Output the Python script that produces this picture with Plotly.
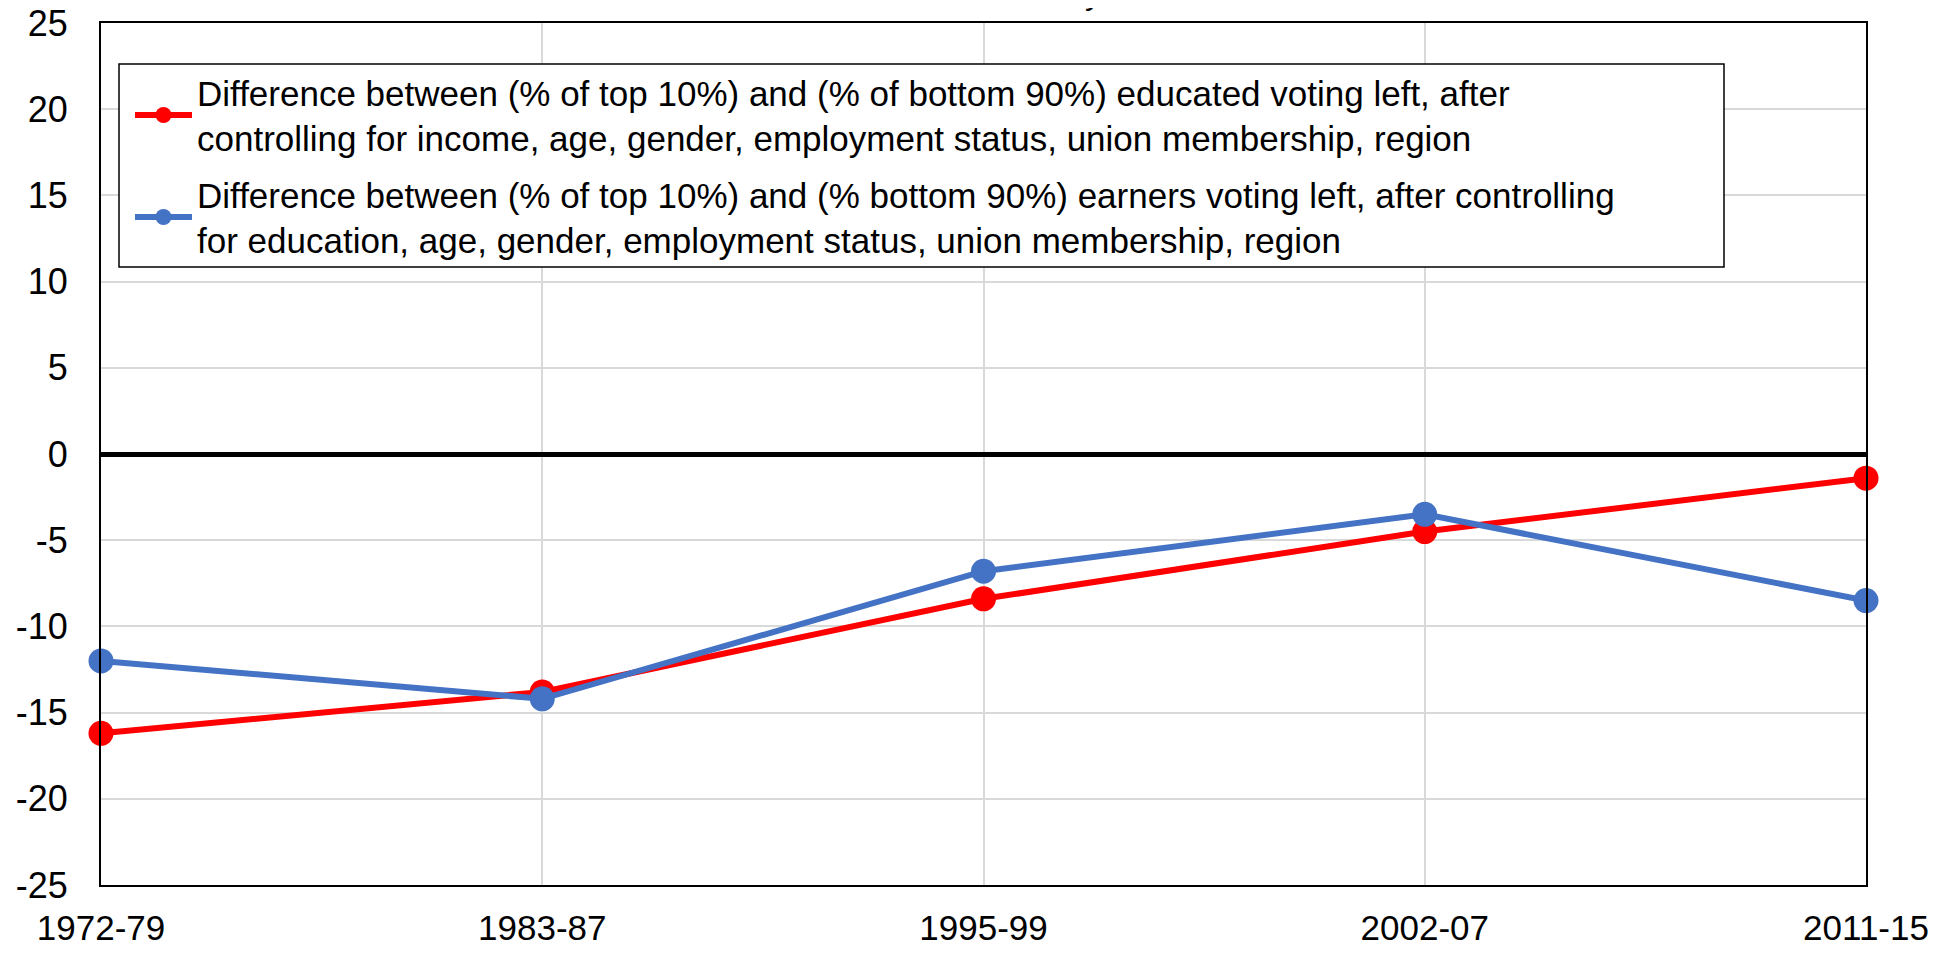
import plotly.graph_objects as go

periods = ["1972-79", "1983-87", "1995-99", "2002-07", "2011-15"]
educ_gap = [-16.2, -13.8, -8.4, -4.5, -1.4]
income_gap = [-12.0, -14.2, -6.8, -3.5, -8.5]
y_ticks = [25, 20, 15, 10, 5, 0, -5, -10, -15, -20, -25]
y_tick_labels = ["25", "20", "15", "10", "5", "0", "-5", "-10", "-15", "-20", "-25"]

name_educ = ("Difference between (% of top 10%) and (% of bottom 90%) educated voting left, after<br>"
             "controlling for income, age, gender, employment status, union membership, region")
name_inc = ("Difference between (% of top 10%) and (% bottom 90%) earners voting left, after controlling<br>"
            "for education, age, gender, employment status, union membership, region")

FONT = "Arial, Liberation Sans, sans-serif"
xs = list(range(len(periods)))

fig = go.Figure()
fig.add_trace(go.Scatter(x=xs, y=educ_gap, mode="lines+markers", name=name_educ,
                         legendgroup="a",
                         line=dict(color="#ff0000", width=6),
                         marker=dict(color="#ff0000", size=25), cliponaxis=False))
fig.add_trace(go.Scatter(x=xs, y=income_gap, mode="lines+markers", name=name_inc,
                         legendgroup="b",
                         line=dict(color="#4472c4", width=6),
                         marker=dict(color="#4472c4", size=25), cliponaxis=False))

# page has an 8px body margin: figure is 1941x941 and page coords = svg coords + 8
OFF = 8
W, H = 1957 - 2 * OFF, 957 - 2 * OFF
L, T = 101 - OFF, 23 - OFF
R = W - (1866 - OFF)
B = H - (885 - OFF)
pw, ph = W - L - R, H - T - B

def px_x(p):
    return (p - OFF - L) / pw

def px_y(p):
    return (H - B - (p - OFF)) / ph

fig.add_shape(type="rect", xref="paper", yref="paper",
              x0=px_x(119), x1=px_x(1724), y0=px_y(267), y1=px_y(64),
              line=dict(color="black", width=1.5), fillcolor="white", layer="above")

fig.add_annotation(text="y", xref="paper", yref="paper", x=px_x(1093), y=1,
                   xanchor="center", yanchor="bottom", yshift=10, showarrow=False,
                   font=dict(family=FONT, size=33, color="black"))

fig.update_layout(
    template="none",
    width=W, height=H,
    margin=dict(l=L, r=R, t=T, b=B, pad=0, autoexpand=False),
    paper_bgcolor="white", plot_bgcolor="white",
    font=dict(family=FONT, color="black"),
    showlegend=True,
    legend=dict(x=px_x(130), y=px_y(63), xanchor="left", yanchor="top",
                bgcolor="rgba(0,0,0,0)", borderwidth=0,
                font=dict(family=FONT, size=35, color="black"),
                itemwidth=57, tracegroupgap=8),
)
fig.update_xaxes(range=[0, len(periods) - 1], tickvals=xs, ticktext=periods,
                 automargin=False, ticklabeloverflow="allow",
                 showgrid=True, gridcolor="#d9d9d9", gridwidth=2,
                 showline=True, linecolor="black", linewidth=2, mirror=True,
                 ticks="", ticklabelstandoff=11, zeroline=False,
                 tickfont=dict(family=FONT, size=35, color="black"))
fig.update_yaxes(range=[-25, 25], tickvals=y_ticks, ticktext=y_tick_labels,
                 automargin=False, ticklabeloverflow="allow",
                 showgrid=True, gridcolor="#d9d9d9", gridwidth=2,
                 showline=True, linecolor="black", linewidth=2, mirror=True,
                 zeroline=True, zerolinecolor="black", zerolinewidth=5,
                 ticks="", ticklabelstandoff=24,
                 tickfont=dict(family=FONT, size=36, color="black"))

fig.write_html("out.html")
